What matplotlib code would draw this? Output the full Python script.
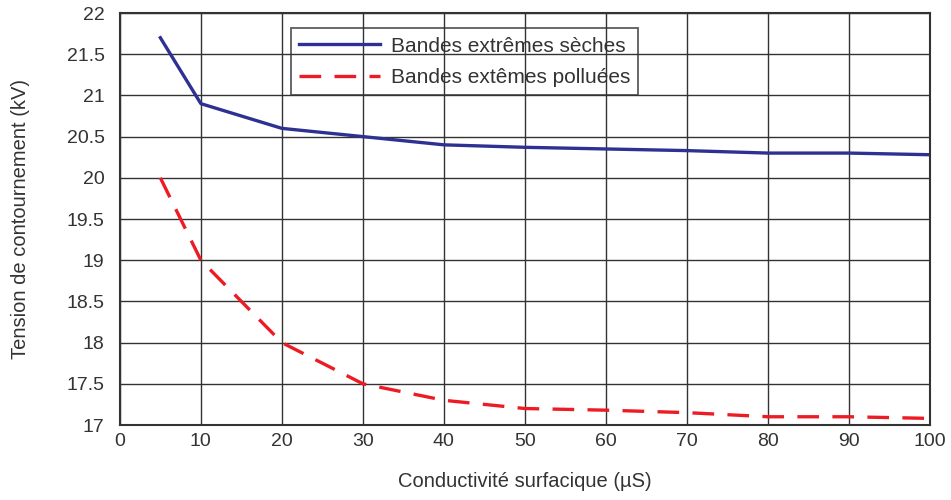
import matplotlib

matplotlib.use('Agg')
import matplotlib.pyplot as plt

plt.rcParams['font.family'] = ['Liberation Sans', 'DejaVu Sans']

conductivity = [5, 10, 20, 30, 40, 50, 60, 70, 80, 90, 100]
dry_ends = [21.7, 20.9, 20.6, 20.5, 20.4, 20.37, 20.35, 20.33, 20.3, 20.3, 20.28]
polluted_ends = [20.0, 19.0, 18.0, 17.5, 17.3, 17.2, 17.18, 17.15, 17.1, 17.1, 17.08]
ytick_vals = [17, 17.5, 18, 18.5, 19, 19.5, 20, 20.5, 21, 21.5, 22]
ytick_labels = ['17', '17.5', '18', '18.5', '19', '19.5', '20', '20.5', '21', '21.5', '22']

fig = plt.figure(figsize=(9.51, 5.0), dpi=100)
ax = fig.add_axes([0.126, 0.15, 0.852, 0.824])

ax.plot(conductivity, dry_ends, color='#2e3192', lw=2.4, label='Bandes extrêmes sèches')
ax.plot(conductivity, polluted_ends, color='#ed1c24', lw=2.4, dashes=(6.5, 4),
        label='Bandes extêmes polluées')

ax.set_xlim(0, 100)
ax.set_ylim(17, 22)
ax.set_xticks(range(0, 101, 10))
ax.set_yticks(ytick_vals)
ax.set_yticklabels(ytick_labels)
ax.tick_params(length=0, labelsize=14, colors='#333333')
ax.tick_params(axis='y', pad=11)
ax.tick_params(axis='x', pad=6)
ax.grid(True, color='#333333', lw=1.0)
ax.set_axisbelow(True)
for sp in ax.spines.values():
    sp.set_color('#333333')
    sp.set_linewidth(1.5)

ax.set_xlabel('Conductivité surfacique (µS)', fontsize=14.5, color='#333333', va='center')
ax.set_ylabel('Tension de contournement (kV)', fontsize=14.5, color='#333333', va='center')
ax.xaxis.set_label_coords(0.5, -0.138)
ax.yaxis.set_label_coords(-0.123, 0.5)

leg = ax.legend(loc='upper left', bbox_to_anchor=(0.211, 0.963), fontsize=15,
                frameon=True, fancybox=False, edgecolor='#333333',
                handlelength=3.9, handletextpad=0.5, borderpad=0.4,
                labelspacing=0.6, borderaxespad=0)
leg.get_frame().set_facecolor('none')
leg.get_frame().set_linewidth(1.3)
for t in leg.get_texts():
    t.set_color('#333333')

fig.savefig('out.png', dpi=100)
